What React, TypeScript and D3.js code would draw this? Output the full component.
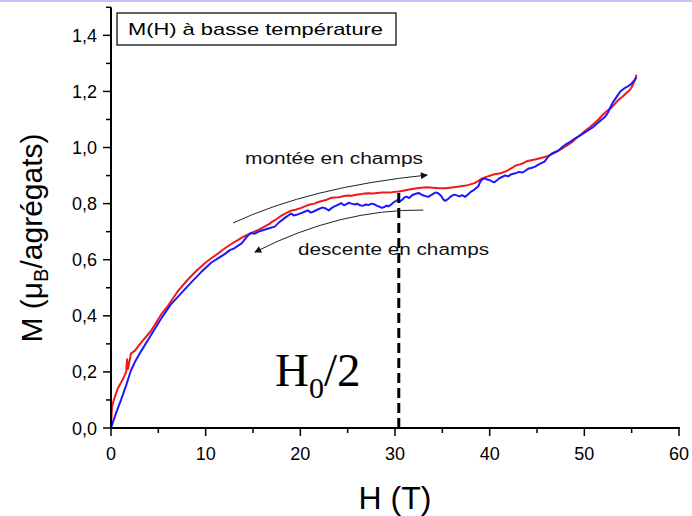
import React from "react";
import * as d3 from "d3";

// Montée en champs (red) : H (T) and M (μB/agrégats)
const upH = [0, 0.1, 0.3, 0.7, 1.2, 1.6, 1.7, 1.8, 2.1, 2.5, 3.2, 4.2, 5.3, 6.0, 7.0, 8.0, 9.0, 10.0, 10.6, 11.3, 12.0, 12.7, 13.4, 14.0, 14.5, 15.0, 15.5, 16.0, 16.3, 16.7, 17.0, 17.5, 18.0, 18.5, 19.0, 19.5, 20.1, 20.6, 21.0, 21.5, 21.9, 22.4, 22.8, 23.2, 23.6, 24.1, 24.5, 25.0, 25.4, 25.9, 26.3, 26.8, 27.2, 27.7, 28.1, 28.6, 29.0, 29.7, 30.4, 31.0, 31.5, 32.0, 32.5, 33.3, 34.0, 34.7, 35.3, 35.8, 36.2, 36.6, 37.0, 37.7, 38.4, 38.9, 39.2, 39.8, 40.5, 41.0, 41.3, 41.7, 42.0, 42.4, 42.7, 43.2, 43.6, 44.0, 44.4, 44.9, 45.3, 45.8, 46.2, 46.8, 47.3, 47.8, 48.3, 48.8, 49.2, 49.7, 50.1, 50.6, 51.0, 51.5, 51.9, 52.3, 52.8, 53.2, 53.6, 54.0, 54.3, 54.8, 55.0, 55.2, 55.4, 55.5];
const upM = [0, 0.075, 0.1, 0.14, 0.17, 0.2, 0.245, 0.21, 0.265, 0.275, 0.305, 0.345, 0.405, 0.435, 0.485, 0.525, 0.56, 0.59, 0.605, 0.622, 0.64, 0.656, 0.67, 0.682, 0.69, 0.698, 0.705, 0.714, 0.72, 0.727, 0.735, 0.745, 0.757, 0.766, 0.775, 0.778, 0.785, 0.792, 0.797, 0.8, 0.806, 0.81, 0.814, 0.82, 0.822, 0.823, 0.826, 0.829, 0.828, 0.832, 0.833, 0.836, 0.837, 0.836, 0.838, 0.84, 0.84, 0.841, 0.843, 0.847, 0.85, 0.853, 0.856, 0.858, 0.857, 0.855, 0.855, 0.857, 0.858, 0.86, 0.862, 0.866, 0.873, 0.883, 0.89, 0.897, 0.905, 0.907, 0.91, 0.915, 0.92, 0.928, 0.935, 0.94, 0.945, 0.952, 0.955, 0.958, 0.962, 0.966, 0.97, 0.98, 0.99, 1.0, 1.01, 1.022, 1.035, 1.048, 1.06, 1.073, 1.085, 1.1, 1.115, 1.128, 1.14, 1.155, 1.17, 1.18, 1.19, 1.205, 1.215, 1.23, 1.245, 1.26];

// Descente en champs (blue)
const downH = [0, 0.5, 1.06, 1.6, 2.1, 2.6, 3.2, 4.2, 5.2, 6.3, 7.4, 8.5, 9.5, 10.6, 11.3, 12.0, 12.6, 13.0, 13.5, 13.8, 14.2, 14.5, 14.8, 15.2, 15.6, 16.2, 16.7, 17.3, 17.8, 18.1, 18.4, 18.7, 19.0, 19.3, 19.6, 20.1, 20.5, 20.8, 21.1, 21.4, 21.9, 22.3, 22.6, 23.0, 23.3, 23.6, 24.0, 24.3, 24.6, 24.8, 25.1, 25.4, 25.8, 26.0, 26.3, 26.6, 26.9, 27.2, 27.5, 27.8, 28.1, 28.3, 28.6, 28.8, 29.1, 29.3, 29.6, 29.8, 30.2, 30.5, 30.7, 31.0, 31.2, 31.5, 31.8, 32.2, 32.5, 32.8, 33.0, 33.5, 33.8, 34.0, 34.3, 34.6, 34.9, 35.1, 35.3, 35.6, 35.8, 36.1, 36.3, 36.8, 37.1, 37.4, 37.8, 38.0, 38.4, 38.8, 39.0, 39.2, 39.5, 39.8, 40.0, 40.3, 40.5, 40.8, 41.0, 41.3, 41.6, 42.0, 42.3, 42.7, 43.1, 43.5, 43.8, 44.1, 44.4, 44.8, 45.2, 45.5, 45.8, 46.2, 46.6, 47.0, 47.3, 47.6, 48.0, 48.5, 49.0, 49.4, 50.1, 50.8, 51.5, 52.2, 52.5, 52.7, 53.0, 53.2, 53.5, 53.8, 54.3, 54.6, 54.9, 55.3, 55.5];
const downM = [0, 0.05, 0.1, 0.152, 0.205, 0.24, 0.275, 0.33, 0.385, 0.44, 0.48, 0.52, 0.555, 0.59, 0.605, 0.62, 0.635, 0.64, 0.652, 0.658, 0.675, 0.688, 0.695, 0.693, 0.7, 0.707, 0.712, 0.718, 0.735, 0.742, 0.75, 0.757, 0.765, 0.758, 0.76, 0.766, 0.772, 0.776, 0.768, 0.772, 0.78, 0.786, 0.784, 0.776, 0.784, 0.79, 0.796, 0.802, 0.794, 0.797, 0.803, 0.8, 0.797, 0.8, 0.794, 0.792, 0.797, 0.795, 0.8, 0.798, 0.792, 0.79, 0.785, 0.787, 0.793, 0.79, 0.797, 0.803, 0.812, 0.808, 0.812, 0.822, 0.825, 0.82, 0.83, 0.835, 0.838, 0.832, 0.829, 0.824, 0.83, 0.834, 0.84, 0.836, 0.826, 0.815, 0.81, 0.816, 0.823, 0.83, 0.832, 0.826, 0.83, 0.824, 0.835, 0.842, 0.85, 0.862, 0.878, 0.886, 0.89, 0.885, 0.884, 0.878, 0.876, 0.884, 0.89, 0.895, 0.9, 0.898, 0.905, 0.908, 0.913, 0.911, 0.918, 0.925, 0.927, 0.932, 0.94, 0.945, 0.95, 0.968, 0.98, 0.985, 0.99, 1.0, 1.01, 1.02, 1.032, 1.04, 1.055, 1.07, 1.09, 1.11, 1.125, 1.14, 1.16, 1.17, 1.185, 1.2, 1.213, 1.218, 1.225, 1.24, 1.25];

const xTicks = [0, 10, 20, 30, 40, 50, 60];
const xMinor = [5, 15, 25, 35, 45, 55];
const yTicks = [0, 0.2, 0.4, 0.6, 0.8, 1.0, 1.2, 1.4];
const yMinor = [0.1, 0.3, 0.5, 0.7, 0.9, 1.1, 1.3, 1.5];

// annotation arcs in data coords: [start, control, end]
const arrowUp = [[12.9, 0.731], [21.0, 0.859], [33.4, 0.902]];
const arrowDown = [[33.0, 0.777], [24.1, 0.781], [15.2, 0.627]];
const H0half = 30.4;
const dashTop = 0.855;

const W = 692, H = 516;
const x = d3.scaleLinear().domain([0, 60]).range([111, 679]);
const y = d3.scaleLinear().domain([0, 1.5]).range([428, 7.3]);

const SANS = "'Liberation Sans', Arial, sans-serif";
const SERIF = "'Liberation Serif', 'Times New Roman', serif";

function App() {
  const line = d3.line<[number, number]>().x(d => x(d[0])).y(d => y(d[1]));
  const up = upH.map((h, i) => [h, upM[i]] as [number, number]);
  const down = downH.map((h, i) => [h, downM[i]] as [number, number]);
  const arc = (pts: number[][]) => {
    const p = d3.path();
    p.moveTo(x(pts[0][0]), y(pts[0][1]));
    p.quadraticCurveTo(x(pts[1][0]), y(pts[1][1]), x(pts[2][0]), y(pts[2][1]));
    return p.toString();
  };
  const fmt = (v: number) => v.toFixed(1).replace(".", ",");
  return (
    <svg width={W} height={H} style={{ position: "absolute", left: 0, top: 0, background: "#fff" }}>
      <defs>
        <marker id="ah" viewBox="0 0 10 10" refX="9" refY="5" markerWidth="9" markerHeight="7" markerUnits="userSpaceOnUse" orient="auto">
          <path d="M0,0 L10,5 L0,10 Z" fill="#111" />
        </marker>
      </defs>
      <rect x={0} y={0} width={W} height={H} fill="#fff" />
      <rect x={0} y={0} width={W} height={2} fill="#c3c3f5" />

      {/* curves */}
      <path d={line(up) || ""} fill="none" stroke="#f01818" strokeWidth={2} strokeLinejoin="round" />
      <path d={line(down) || ""} fill="none" stroke="#1a1aff" strokeWidth={2} strokeLinejoin="round" />

      {/* dashed H0/2 line */}
      <line x1={x(H0half)} x2={x(H0half)} y1={y(0)} y2={y(dashTop)} stroke="#000" strokeWidth={3} strokeDasharray="10 5" />

      {/* arrows */}
      <path d={arc(arrowUp)} fill="none" stroke="#222" strokeWidth={1} markerEnd="url(#ah)" />
      <path d={arc(arrowDown)} fill="none" stroke="#222" strokeWidth={1} markerEnd="url(#ah)" />
      <text x={245} y={164} fontFamily={SANS} fontSize={16} textLength={178} lengthAdjust="spacingAndGlyphs" fill="#111">montée en champs</text>
      <text x={298} y={255} fontFamily={SANS} fontSize={16} textLength={191} lengthAdjust="spacingAndGlyphs" fill="#111">descente en champs</text>

      {/* H0/2 */}
      <text x={275} y={386} fontFamily={SERIF} fontSize={47} fill="#000">
        H<tspan fontSize={30} dy={12}>0</tspan><tspan dy={-12}>/2</tspan>
      </text>

      {/* axes */}
      <line x1={x(0) - 1} x2={x(60) + 1} y1={y(0)} y2={y(0)} stroke="#000" strokeWidth={2} />
      <line x1={x(0)} x2={x(0)} y1={y(0) + 1} y2={y(1.5)} stroke="#000" strokeWidth={2} />
      {xTicks.map(t => (
        <g key={"x" + t}>
          <line x1={x(t)} x2={x(t)} y1={y(0)} y2={y(0) + 8} stroke="#000" strokeWidth={1.5} />
          <text x={x(t)} y={460} textAnchor="middle" fontFamily={SANS} fontSize={18} fill="#000">{t}</text>
        </g>
      ))}
      {xMinor.map(t => (
        <line key={"xm" + t} x1={x(t)} x2={x(t)} y1={y(0)} y2={y(0) + 5} stroke="#000" strokeWidth={1.5} />
      ))}
      {yTicks.map(t => (
        <g key={"y" + t}>
          <line x1={x(0)} x2={x(0) - 8} y1={y(t)} y2={y(t)} stroke="#000" strokeWidth={1.5} />
          <text x={97} y={y(t) + 6.5} textAnchor="end" fontFamily={SANS} fontSize={18} fill="#000">{fmt(t)}</text>
        </g>
      ))}
      {yMinor.map(t => (
        <line key={"ym" + t} x1={x(0)} x2={x(0) - 5} y1={y(t)} y2={y(t)} stroke="#000" strokeWidth={1.5} />
      ))}

      {/* axis titles */}
      <text x={395} y={509} textAnchor="middle" fontFamily={SANS} fontSize={32} fill="#000">H (T)</text>
      <text transform={`translate(42,${238}) rotate(-90)`} textAnchor="middle" fontFamily={SANS} fontSize={30} fill="#000">
        M (μ<tspan fontSize={20} dy={6}>B</tspan><tspan dy={-6}>/agrégats)</tspan>
      </text>

      {/* legend box */}
      <rect x={117} y={13} width={279} height={32} fill="#fff" stroke="#000" strokeWidth={1.2} />
      <text x={128} y={35} fontFamily={SANS} fontSize={17} textLength={255} lengthAdjust="spacingAndGlyphs" fill="#000">M(H) à basse température</text>
    </svg>
  );
}

export default App;
